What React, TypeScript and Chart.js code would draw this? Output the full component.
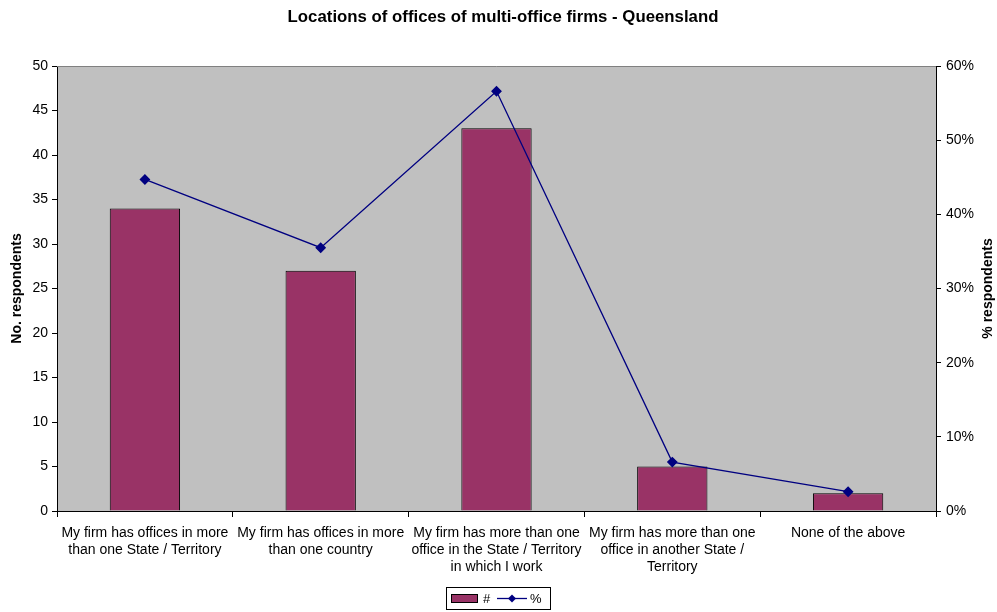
import React, { useEffect, useRef } from "react";
import { Chart, registerables } from "chart.js";

Chart.register(...registerables);

const TITLE = "Locations of offices of multi-office firms - Queensland";
const LEFT_TITLE = "No. respondents";
const RIGHT_TITLE = "% respondents";
const categories: (string | string[])[] = [
  ["My firm has offices in more", "than one State / Territory"],
  ["My firm has offices in more", "than one country"],
  ["My firm has more than one", "office in the State / Territory", "in which I work"],
  ["My firm has more than one", "office in another State /", "Territory"],
  "None of the above",
];
const counts = [34, 27, 43, 5, 2];
const percents = [44.7, 35.5, 56.6, 6.6, 2.6];
const seriesNames = ["#", "%"];

const FONT = '"Liberation Sans", Arial, Helvetica, sans-serif';
const BAR_COLOR = "#993366";
const LINE_COLOR = "#000080";

const decor = {
  id: "decor",
  beforeDraw(chart: any) {
    const { ctx, chartArea: a } = chart;
    ctx.save();
    ctx.fillStyle = "#FFFFFF";
    ctx.fillRect(0, 0, chart.width, chart.height);
    ctx.fillStyle = "#C0C0C0";
    ctx.fillRect(a.left, a.top, a.right - a.left, a.bottom - a.top);
    ctx.restore();
  },
  afterDraw(chart: any) {
    const { ctx, chartArea: a } = chart;
    ctx.save();
    ctx.strokeStyle = "#808080";
    ctx.lineWidth = 1;
    ctx.beginPath();
    ctx.moveTo(a.left, Math.round(a.top) + 0.5);
    ctx.lineTo(a.right, Math.round(a.top) + 0.5);
    ctx.stroke();

    ctx.fillStyle = "#000";
    ctx.textAlign = "center";
    ctx.textBaseline = "middle";
    ctx.font = `bold 16.8px ${FONT}`;
    ctx.fillText(TITLE, 503, 17);

    const midY = (a.top + a.bottom) / 2;
    ctx.font = `bold 14px ${FONT}`;
    ctx.save();
    ctx.translate(17, midY);
    ctx.rotate(-Math.PI / 2);
    ctx.fillText(LEFT_TITLE, 0, 0);
    ctx.restore();
    ctx.save();
    ctx.translate(988, midY);
    ctx.rotate(-Math.PI / 2);
    ctx.fillText(RIGHT_TITLE, 0, 0);
    ctx.restore();

    // legend
    ctx.strokeStyle = "#000";
    ctx.lineWidth = 1;
    ctx.strokeRect(446.5, 587.5, 104, 22);
    ctx.fillStyle = BAR_COLOR;
    ctx.fillRect(451, 594, 27, 9);
    ctx.strokeRect(451.5, 594.5, 26, 8);
    ctx.fillStyle = "#000";
    ctx.font = `13px ${FONT}`;
    ctx.textAlign = "left";
    ctx.fillText(seriesNames[0], 483, 599);
    ctx.strokeStyle = LINE_COLOR;
    ctx.lineWidth = 1.3;
    ctx.beginPath();
    ctx.moveTo(497, 598.5);
    ctx.lineTo(527, 598.5);
    ctx.stroke();
    ctx.fillStyle = LINE_COLOR;
    ctx.beginPath();
    ctx.moveTo(512, 594.5);
    ctx.lineTo(516, 598.5);
    ctx.lineTo(512, 602.5);
    ctx.lineTo(508, 598.5);
    ctx.closePath();
    ctx.fill();
    ctx.fillStyle = "#000";
    ctx.fillText(seriesNames[1], 530, 599);
    ctx.restore();
  },
};

export default function App() {
  const ref = useRef<HTMLCanvasElement | null>(null);
  useEffect(() => {
    document.body.style.margin = "0";
    const canvas = ref.current!;
    const chart = new Chart(canvas, {
      type: "bar",
      data: {
        labels: categories as any,
        datasets: [
          {
            type: "line",
            label: seriesNames[1],
            data: percents,
            yAxisID: "y2",
            borderColor: LINE_COLOR,
            backgroundColor: LINE_COLOR,
            borderWidth: 1.3,
            pointStyle: "rectRot",
            pointRadius: 4.5,
            pointBackgroundColor: LINE_COLOR,
            pointBorderColor: LINE_COLOR,
            tension: 0,
            order: 0,
          } as any,
          {
            type: "bar",
            label: seriesNames[0],
            data: counts,
            yAxisID: "y",
            backgroundColor: BAR_COLOR,
            borderColor: "#000",
            borderWidth: 1,
            barPercentage: 0.4,
            categoryPercentage: 1,
            order: 1,
          } as any,
        ],
      },
      options: {
        responsive: false,
        animation: false,
        devicePixelRatio: 1,
        layout: { padding: { top: 66, left: 0, right: 0, bottom: 0 } },
        plugins: {
          legend: { display: false },
          title: { display: false },
          tooltip: { enabled: false },
        },
        scales: {
          x: {
            offset: true,
            grid: {
              display: true,
              offset: true,
              drawOnChartArea: false,
              drawTicks: true,
              tickLength: 6,
              color: "#000",
            },
            border: { color: "#000", width: 1 },
            ticks: {
              color: "#000",
              font: { family: FONT, size: 14, lineHeight: 1.2 },
              padding: 8,
              maxRotation: 0,
              autoSkip: false,
            },
            afterFit(scale: any) {
              scale.height = 101;
            },
          },
          y: {
            position: "left",
            min: 0,
            max: 50,
            grid: {
              display: true,
              drawOnChartArea: false,
              tickLength: 5,
              color: "#000",
            },
            border: { color: "#000", width: 1 },
            ticks: {
              stepSize: 5,
              color: "#000",
              font: { family: FONT, size: 14 },
              padding: 4,
            },
            afterFit(scale: any) {
              scale.width = 57;
            },
          },
          y2: {
            position: "right",
            min: 0,
            max: 60,
            grid: {
              display: true,
              drawOnChartArea: false,
              tickLength: 5,
              color: "#000",
            },
            border: { color: "#000", width: 1 },
            ticks: {
              stepSize: 10,
              color: "#000",
              font: { family: FONT, size: 14 },
              padding: 5,
              callback: (v: any) => `${v}%`,
            },
            afterFit(scale: any) {
              scale.width = 61;
            },
          },
        },
      },
      plugins: [decor],
    });
    return () => chart.destroy();
  }, []);
  return (
    <div style={{ width: 997, height: 612 }}>
      <canvas ref={ref} width={997} height={612} style={{ display: "block" }} />
    </div>
  );
}
